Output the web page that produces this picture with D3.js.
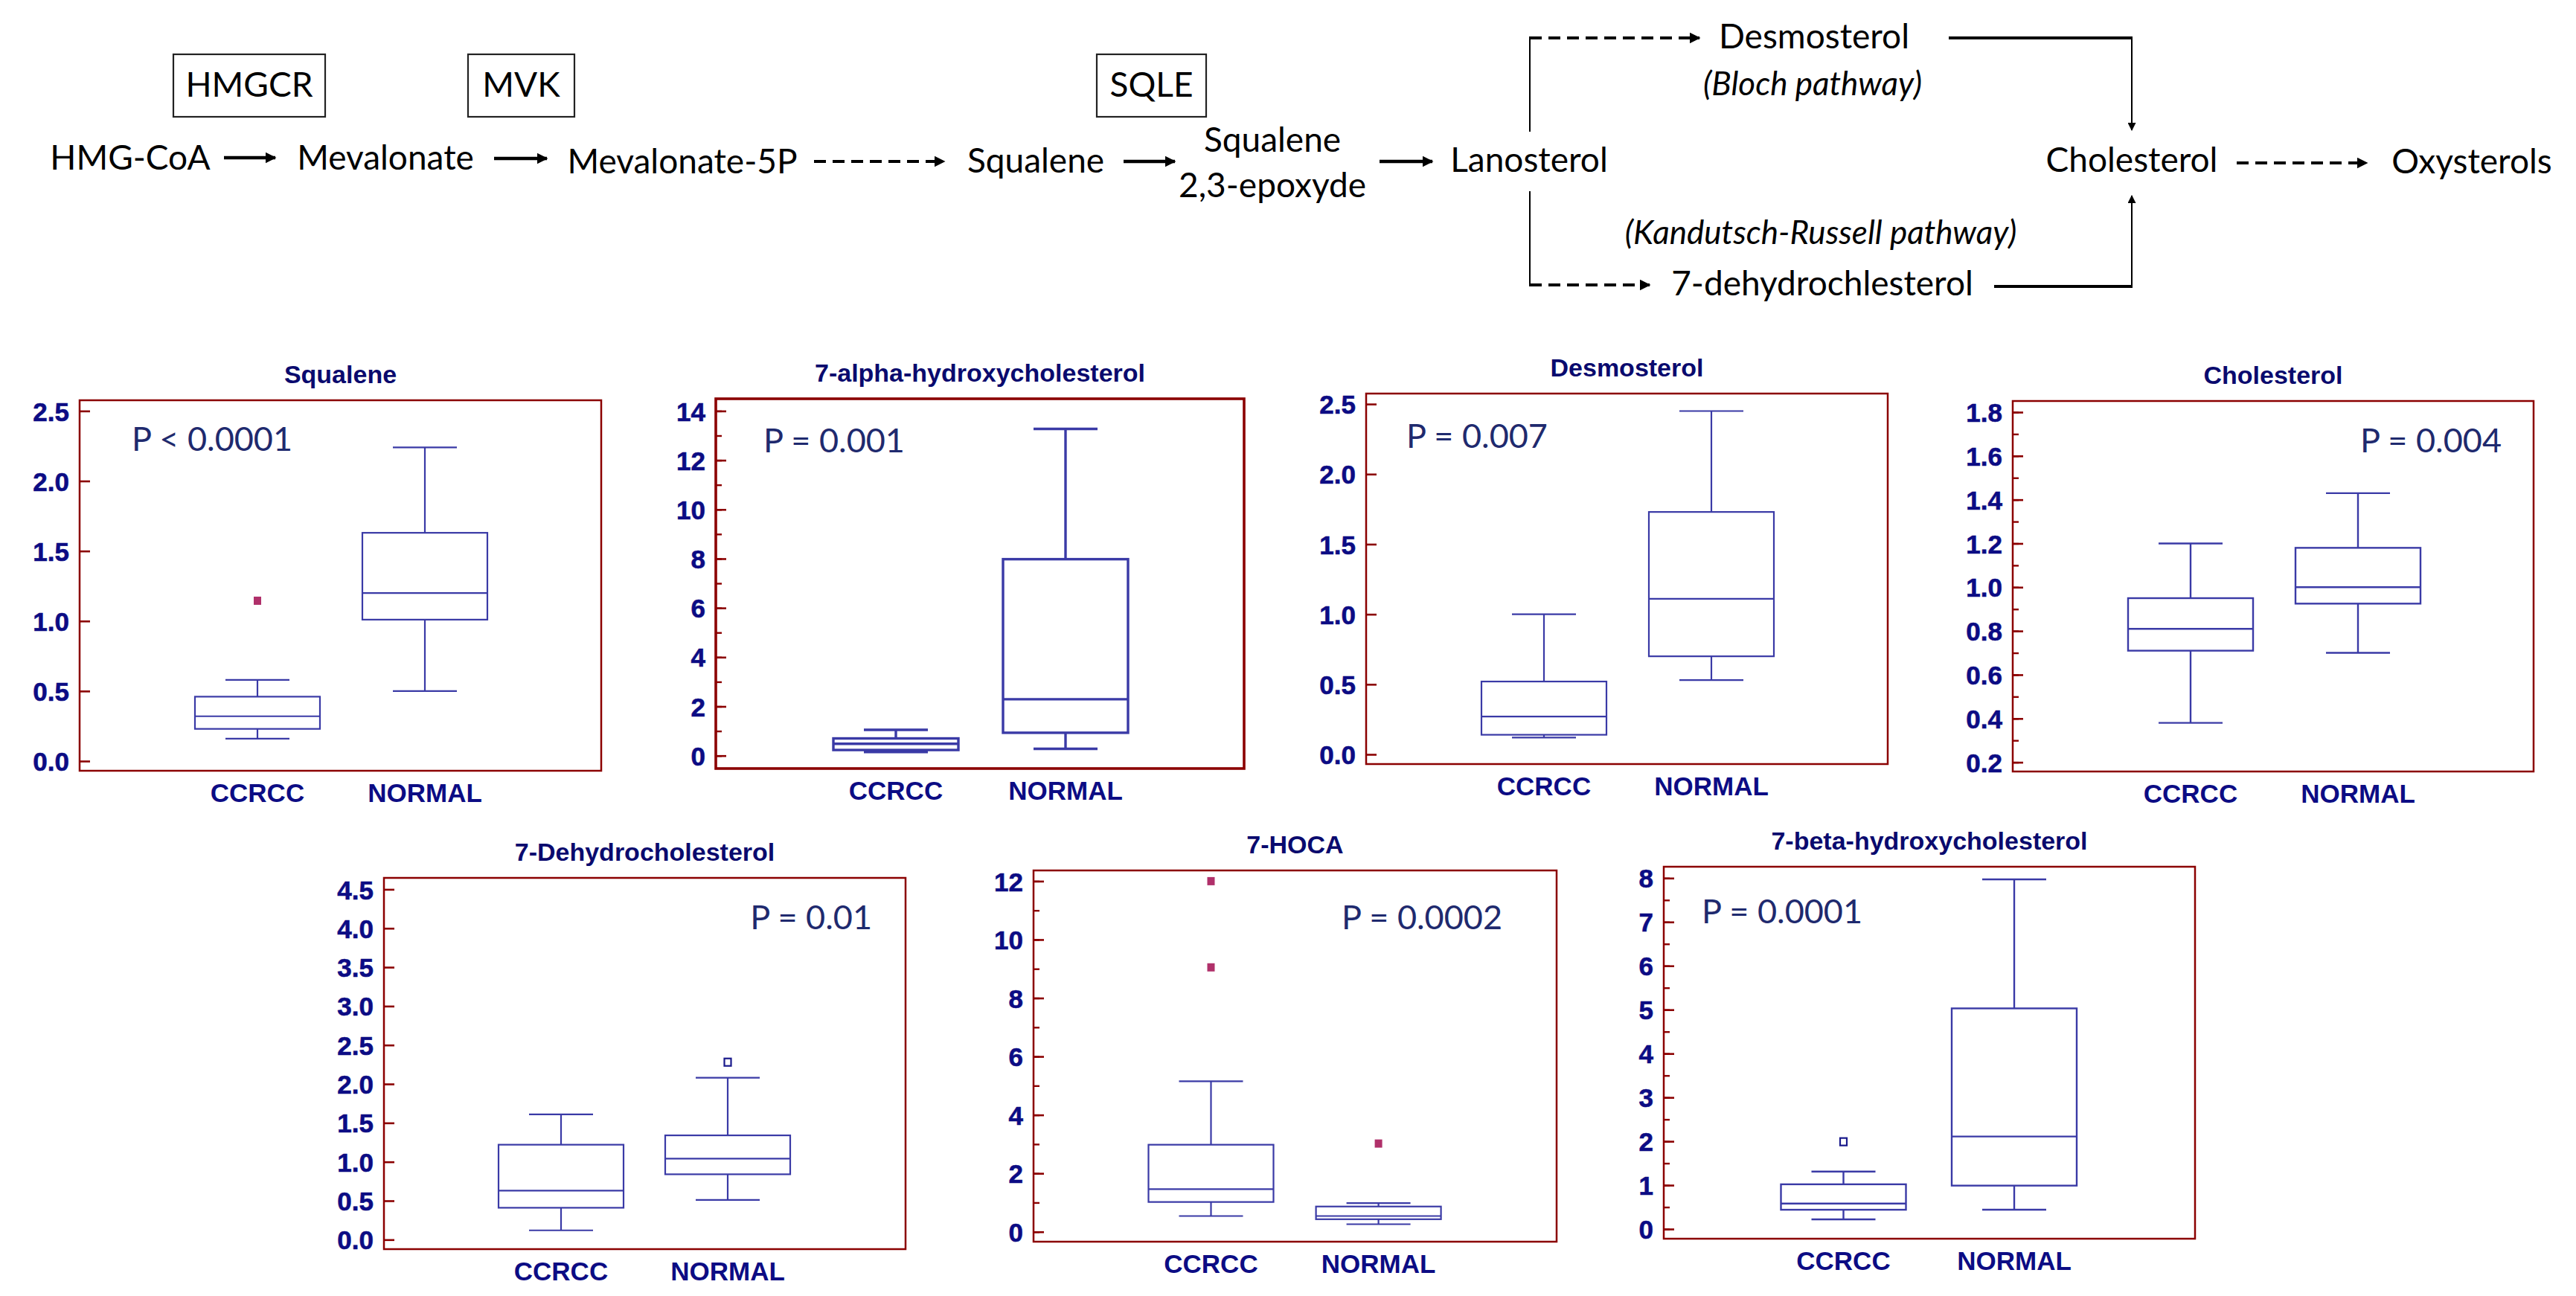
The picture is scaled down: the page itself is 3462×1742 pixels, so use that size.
<!DOCTYPE html>
<html><head><meta charset="utf-8">
<script src="https://cdn.jsdelivr.net/npm/d3@7"></script>
<style>body{margin:0;background:#fff} svg{display:block}</style>
</head><body>
<svg id="c" width="3462" height="1742"></svg>
<script>
// ---------------- DATA ----------------
const groups = ["CCRCC", "NORMAL"];
const titles = ["Squalene", "7-alpha-hydroxycholesterol", "Desmosterol", "Cholesterol",
                "7-Dehydrocholesterol", "7-HOCA", "7-beta-hydroxycholesterol"];
const pValues = ["P < 0.0001", "P = 0.001", "P = 0.007", "P = 0.004", "P = 0.01", "P = 0.0002", "P = 0.0001"];

// per group: [low whisker, Q1, median, Q3, high whisker]
const squalene    = [[0.16, 0.23, 0.32, 0.46, 0.58], [0.50, 1.01, 1.20, 1.63, 2.24]];
const alphaOH     = [[0.15, 0.23, 0.48, 0.70, 1.05], [0.28, 0.93, 2.29, 7.98, 13.27]];
const desmosterol = [[0.12, 0.14, 0.27, 0.52, 1.00], [0.53, 0.70, 1.11, 1.73, 2.45]];
const cholesterol = [[0.38, 0.71, 0.81, 0.95, 1.20], [0.70, 0.925, 1.00, 1.18, 1.43]];
const dehydro     = [[0.12, 0.41, 0.63, 1.22, 1.61], [0.51, 0.84, 1.04, 1.34, 2.08]];
const hoca        = [[0.54, 1.02, 1.46, 2.98, 5.15], [0.26, 0.43, 0.54, 0.865, 0.98]];
const betaOH      = [[0.22, 0.44, 0.58, 1.02, 1.31], [0.44, 0.99, 2.11, 5.03, 7.97]];

// outliers: [group index, value, far-out (filled) ?]
const squaleneOut = [[0, 1.145, true]];
const alphaOut = [];
const desmoOut = [];
const cholOut = [];
const dehydroOut = [[1, 2.28, false]];
const hocaOut = [[0, 12.0, true], [0, 9.05, true], [1, 3.02, true]];
const betaOut = [[0, 1.99, false]];

// tick labels
const ticksSqualene = ["0.0", "0.5", "1.0", "1.5", "2.0", "2.5"];
const ticksAlpha = ["0", "2", "4", "6", "8", "10", "12", "14"];
const ticksDesmo = ["0.0", "0.5", "1.0", "1.5", "2.0", "2.5"];
const ticksChol = ["0.2", "0.4", "0.6", "0.8", "1.0", "1.2", "1.4", "1.6", "1.8"];
const ticksDehydro = ["0.0", "0.5", "1.0", "1.5", "2.0", "2.5", "3.0", "3.5", "4.0", "4.5"];
const ticksHoca = ["0", "2", "4", "6", "8", "10", "12"];
const ticksBeta = ["0", "1", "2", "3", "4", "5", "6", "7", "8"];
// minor tick step (0 = none)
const minorSteps = [0, 1, 0, 0.1, 0, 1, 0.5];

// ---------------- LAYOUT ----------------
const stats = [squalene, alphaOH, desmosterol, cholesterol, dehydro, hoca, betaOH];
const outs = [squaleneOut, alphaOut, desmoOut, cholOut, dehydroOut, hocaOut, betaOut];
const tickSets = [ticksSqualene, ticksAlpha, ticksDesmo, ticksChol, ticksDehydro, ticksHoca, ticksBeta];
const layout = [
  {x: 107, y: 538, w: 701, h: 498, t1: 552.4, t0: 1023, c: [346, 571], p: {a: "start", x: 177, y: 606}, lw: 2.2, fw: 2.5},
  {x: 962, y: 536, w: 710, h: 497, t1: 552.4, t0: 1015.7, c: [1204, 1432], p: {a: "start", x: 1026, y: 608}, lw: 3.4, fw: 3.6},
  {x: 1836, y: 529, w: 701, h: 498, t1: 543.1, t0: 1014, c: [2075, 2300], p: {a: "start", x: 1890, y: 602}, lw: 2.2, fw: 2.5},
  {x: 2705, y: 539, w: 700, h: 498, t1: 554, t0: 1024.6, c: [2944, 3169], p: {a: "end", x: 3362, y: 608}, lw: 2.4, fw: 2.5},
  {x: 516, y: 1180, w: 701, h: 499, t1: 1195.4, t0: 1666.3, c: [754, 978], p: {a: "end", x: 1172, y: 1249}, lw: 2.2, fw: 2.5},
  {x: 1389, y: 1170, w: 703, h: 499, t1: 1184.4, t0: 1655.7, c: [1627.5, 1852.6], p: {a: "end", x: 2019, y: 1249}, lw: 2.2, fw: 2.5},
  {x: 2236, y: 1165, w: 714, h: 500, t1: 1180.3, t0: 1652, c: [2477.5, 2707], p: {a: "start", x: 2287, y: 1241}, lw: 2.4, fw: 2.5}
];

const svg = d3.select("#c");
const frameCol = "#8b0000", boxCol = "#3a3aa6", labCol = "#0c0c84", pCol = "#1f2a6e";

layout.forEach((L, i) => {
  const tl = tickSets[i].map(Number);
  const y = d3.scaleLinear().domain([tl[0], tl[tl.length - 1]]).range([L.t0, L.t1]);
  const x = d3.scalePoint().domain(groups).range(L.c);
  const g = svg.append("g");

  g.append("rect").attr("x", L.x).attr("y", L.y).attr("width", L.w).attr("height", L.h)
    .attr("fill", "none").attr("stroke", frameCol).attr("stroke-width", L.fw);

  if (minorSteps[i] > 0) {
    const minor = d3.range(tl[0], tl[tl.length - 1] + 1e-9, minorSteps[i]);
    const am = g.append("g").attr("transform", `translate(${L.x},0)`)
      .call(d3.axisRight(y).tickValues(minor).tickSize(8).tickFormat(""));
    am.select(".domain").remove();
    am.selectAll("line").attr("stroke", frameCol).attr("stroke-width", 2.4);
  }
  const aM = g.append("g").attr("transform", `translate(${L.x},0)`)
    .call(d3.axisRight(y).tickValues(tl).tickSize(14).tickFormat(""));
  aM.select(".domain").remove();
  aM.selectAll("line").attr("stroke", frameCol).attr("stroke-width", 2.6);
  const aL = g.append("g").attr("transform", `translate(${L.x},0)`)
    .call(d3.axisLeft(y).tickValues(tl).tickSize(0).tickPadding(14)
      .tickFormat((d, k) => tickSets[i][k]));
  aL.select(".domain").remove();
  aL.selectAll("text").attr("fill", labCol).attr("font-family", "Liberation Sans, Arial, sans-serif")
    .attr("font-weight", "bold").attr("font-size", 35).attr("dy", "0.36em")
    .attr("stroke", labCol).attr("stroke-width", 0.6);

  g.append("text").attr("x", L.x + L.w / 2).attr("y", L.y - 23).attr("text-anchor", "middle")
    .attr("font-family", "Liberation Sans, Arial, sans-serif").attr("font-weight", "bold")
    .attr("font-size", 34).attr("fill", "#0a0a6e").text(titles[i]);

  groups.forEach(gr => {
    g.append("text").attr("x", x(gr)).attr("y", L.y + L.h + 42).attr("text-anchor", "middle")
      .attr("font-family", "Liberation Sans, Arial, sans-serif").attr("font-weight", "bold")
      .attr("font-size", 35).attr("fill", labCol).text(gr);
  });

  g.append("text").attr("x", L.p.x).attr("y", L.p.y).attr("text-anchor", L.p.a)
    .attr("font-family", "Lato, sans-serif").attr("font-size", 45).attr("fill", pCol).text(pValues[i]);

  const bw = 168, cw = 86;
  stats[i].forEach((s, k) => {
    const cx = x(groups[k]);
    const [lo, q1, med, q3, hi] = s;
    const bg = g.append("g").attr("stroke", boxCol).attr("stroke-width", L.lw).attr("fill", "none");
    bg.append("line").attr("x1", cx).attr("x2", cx).attr("y1", y(q3)).attr("y2", y(hi));
    bg.append("line").attr("x1", cx).attr("x2", cx).attr("y1", y(q1)).attr("y2", y(lo));
    bg.append("line").attr("x1", cx - cw / 2).attr("x2", cx + cw / 2).attr("y1", y(hi)).attr("y2", y(hi));
    bg.append("line").attr("x1", cx - cw / 2).attr("x2", cx + cw / 2).attr("y1", y(lo)).attr("y2", y(lo));
    bg.append("rect").attr("x", cx - bw / 2).attr("y", y(q3)).attr("width", bw).attr("height", y(q1) - y(q3));
    bg.append("line").attr("x1", cx - bw / 2).attr("x2", cx + bw / 2).attr("y1", y(med)).attr("y2", y(med));
  });

  outs[i].forEach(o => {
    const cx = x(groups[o[0]]), cy = y(o[1]);
    if (o[2]) {
      g.append("rect").attr("x", cx - 5).attr("y", cy - 5.5).attr("width", 10).attr("height", 11)
        .attr("fill", "#b0306a");
    } else {
      g.append("rect").attr("x", cx - 4.5).attr("y", cy - 5).attr("width", 9).attr("height", 10)
        .attr("fill", "#fff").attr("stroke", "#1a1a8c").attr("stroke-width", 2.2);
    }
  });
});

// ---------------- PATHWAY DIAGRAM ----------------
const defs = svg.append("defs");
defs.append("marker").attr("id", "ah").attr("viewBox", "0 0 10 10").attr("refX", 9).attr("refY", 5)
  .attr("markerWidth", 15).attr("markerHeight", 15).attr("markerUnits", "userSpaceOnUse").attr("orient", "auto")
  .append("path").attr("d", "M0,0 L10,5 L0,10 Z").attr("fill", "#000");
defs.append("marker").attr("id", "ahs").attr("viewBox", "0 0 10 10").attr("refX", 9).attr("refY", 5)
  .attr("markerWidth", 13).attr("markerHeight", 11).attr("markerUnits", "userSpaceOnUse").attr("orient", "auto")
  .append("path").attr("d", "M0,0 L10,5 L0,10 Z").attr("fill", "#000");

const dg = svg.append("g").attr("font-family", "Lato, sans-serif").attr("fill", "#000");
const nodes = [
  {t: "HMG-CoA", x: 175, y: 228},
  {t: "Mevalonate", x: 518, y: 228},
  {t: "Mevalonate-5P", x: 917, y: 233},
  {t: "Squalene", x: 1392, y: 232},
  {t: "Squalene", x: 1710, y: 204},
  {t: "2,3-epoxyde", x: 1710, y: 265},
  {t: "Lanosterol", x: 2055, y: 231},
  {t: "Desmosterol", x: 2438, y: 65},
  {t: "Cholesterol", x: 2865, y: 231},
  {t: "Oxysterols", x: 3322, y: 233},
  {t: "7-dehydrochlesterol", x: 2449, y: 397}
];
nodes.forEach(n => dg.append("text").attr("x", n.x).attr("y", n.y).attr("text-anchor", "middle")
  .attr("font-size", 46).text(n.t));
[{t: "(Bloch pathway)", x: 2436, y: 128}, {t: "(Kandutsch-Russell pathway)", x: 2447, y: 328}]
  .forEach(n => dg.append("text").attr("x", n.x).attr("y", n.y).attr("text-anchor", "middle")
    .attr("font-size", 44).attr("font-style", "italic").text(n.t));

const enzymes = [{t: "HMGCR", x0: 233, x1: 437}, {t: "MVK", x0: 629, x1: 772}, {t: "SQLE", x0: 1474, x1: 1621}];
enzymes.forEach(e => {
  dg.append("rect").attr("x", e.x0).attr("y", 73).attr("width", e.x1 - e.x0).attr("height", 84)
    .attr("fill", "none").attr("stroke", "#222").attr("stroke-width", 2.2);
  dg.append("text").attr("x", (e.x0 + e.x1) / 2).attr("y", 130).attr("text-anchor", "middle")
    .attr("font-size", 46).text(e.t);
});

function seg(x1, y1, x2, y2, w, dash, marker) {
  const l = dg.append("line").attr("x1", x1).attr("y1", y1).attr("x2", x2).attr("y2", y2)
    .attr("stroke", "#000").attr("stroke-width", w);
  if (dash) l.attr("stroke-dasharray", dash);
  if (marker) l.attr("marker-end", `url(#${marker})`);
}
seg(301, 212, 370, 212, 4.5, null, "ah");
seg(664, 213, 735, 213, 4.5, null, "ah");
seg(1510, 217, 1579, 217, 4.5, null, "ah");
seg(1854, 217, 1925, 217, 4.5, null, "ah");
seg(1094, 217, 1269, 217, 4, "16,9", "ah");
seg(3006, 219, 3181, 219, 4, "16,9", "ah");
seg(2056, 51, 2284, 51, 4, "16,9", "ah");
seg(2056, 383, 2217, 383, 4, "16,9", "ah");
seg(2056, 49, 2056, 177, 2, null, null);
seg(2056, 257, 2056, 385, 2, null, null);
seg(2619, 51, 2866, 51, 4, null, null);
seg(2865, 51, 2865, 175, 2, null, "ahs");
seg(2680, 385, 2866, 385, 4, null, null);
seg(2865, 385, 2865, 263, 2, null, "ahs");
</script>
</body></html>
